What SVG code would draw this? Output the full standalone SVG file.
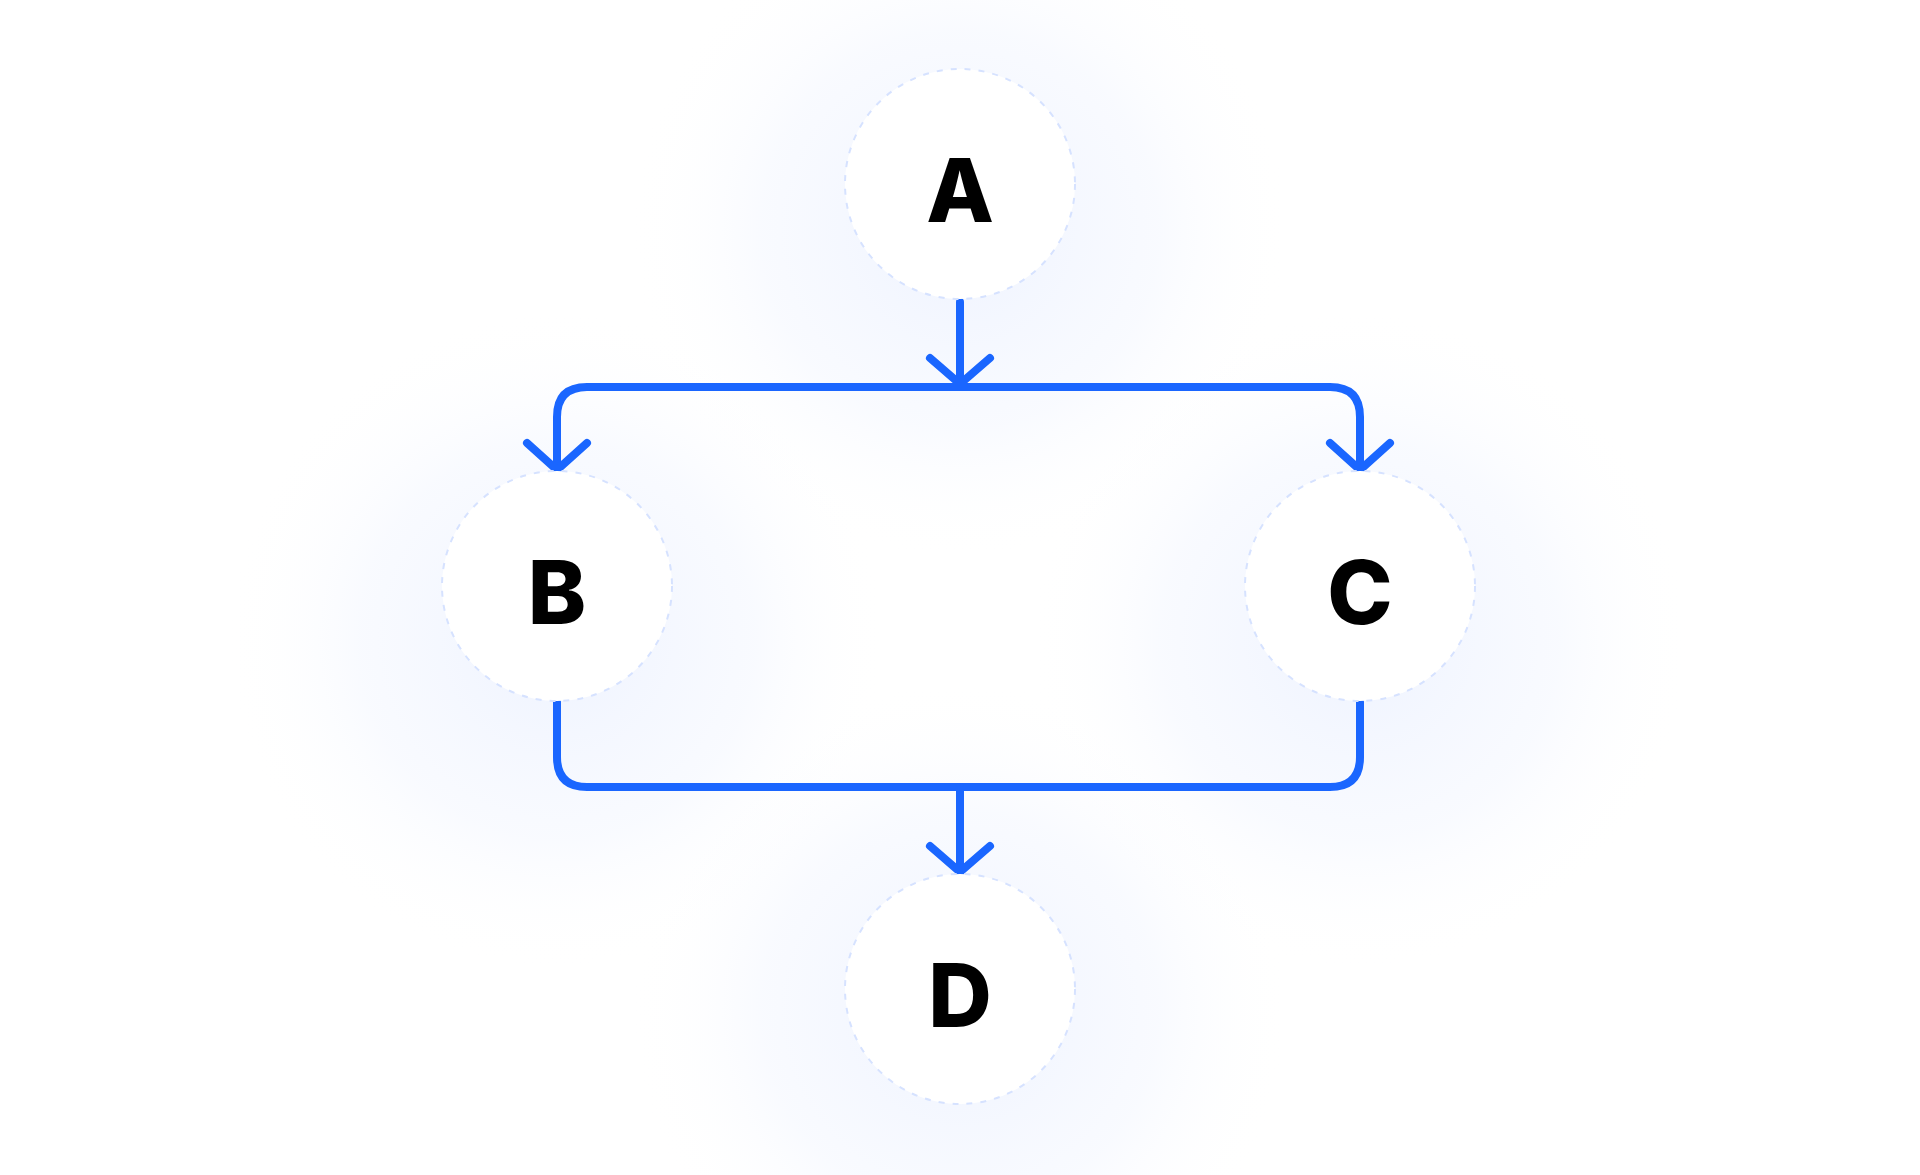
<svg xmlns="http://www.w3.org/2000/svg" width="1920" height="1175" viewBox="0 0 1920 1175">
<defs>
<radialGradient id="glow"><stop offset="0" stop-color="#eaf0ff" stop-opacity="0.8"/><stop offset="0.6" stop-color="#f1f5ff" stop-opacity="0.45"/><stop offset="1" stop-color="#ffffff" stop-opacity="0"/></radialGradient>
</defs>
<style>
.node circle.n{fill:#fff;stroke:#d6e2ff;stroke-width:2;stroke-dasharray:6 8}
.node text{font-family:Inter,"Liberation Sans",sans-serif;font-weight:800;font-size:88px;fill:#000;text-anchor:middle;dominant-baseline:central}
.edge{fill:none;stroke:#1a66ff;stroke-width:8;stroke-linecap:round;stroke-linejoin:round}
</style>
<rect width="1920" height="1175" fill="#fff"/>
<circle cx="960" cy="230" r="330" fill="url(#glow)"/>
<circle cx="557" cy="640" r="330" fill="url(#glow)"/>
<circle cx="1360" cy="640" r="330" fill="url(#glow)"/>
<circle cx="960" cy="1010" r="330" fill="url(#glow)"/>
<g id="connectors">
<path class="edge" d="M960 302 V387"/>
<path class="edge" d="M930 358 L960 384 L990 358"/>
<path class="edge" d="M557 472 V417 Q557 387 587 387 H1330 Q1360 387 1360 417 V472"/>
<path class="edge" d="M527 443 L557 470 L587 443"/>
<path class="edge" d="M1330 443 L1360 470 L1390 443"/>
<path class="edge" d="M557 702 V757 Q557 787 587 787 H1330 Q1360 787 1360 757 V702"/>
<path class="edge" d="M960 787 V874"/>
<path class="edge" d="M930 846 L960 872 L990 846"/>
</g>
<g id="A" class="node"><circle class="n" cx="960" cy="184" r="115"/><text x="960" y="190">A</text></g>
<g id="B" class="node"><circle class="n" cx="557" cy="586" r="115"/><text x="557" y="592">B</text></g>
<g id="C" class="node"><circle class="n" cx="1360" cy="586" r="115"/><text x="1360" y="592">C</text></g>
<g id="D" class="node"><circle class="n" cx="960" cy="989" r="115"/><text x="960" y="995">D</text></g>
</svg>
